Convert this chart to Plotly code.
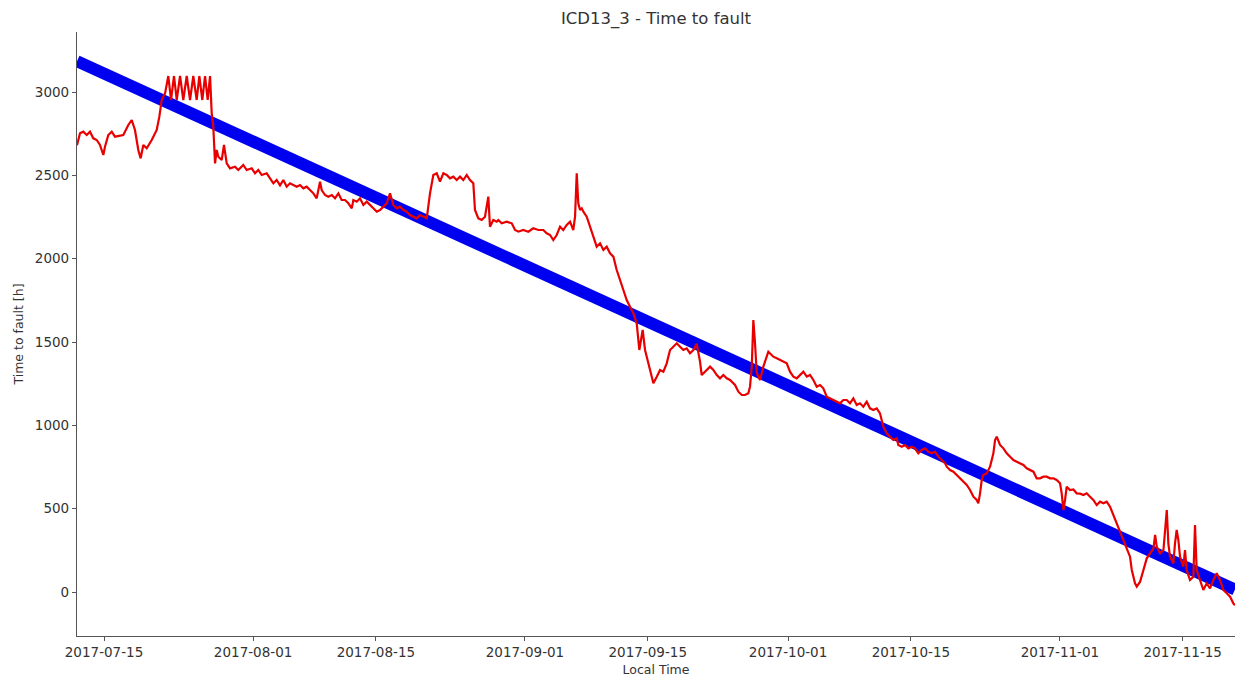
import pandas as pd
import plotly.graph_objects as go

# Reference date for the day offsets below
ORIGIN = pd.Timestamp("2017-07-15")

# Predicted time to fault (red), day offsets from ORIGIN and hours
red_day = [
    -3.08, -2.74, -2.36, -1.97, -1.60, -1.22, -0.83, -0.46, -0.08, 0.11,
    0.49, 0.88, 1.25, 1.82, 2.20, 2.77, 3.16, 3.53, 3.91, 4.18,
    4.48, 4.87, 5.44, 6.01, 6.31, 6.58, 6.96, 7.33, 7.64, 7.98,
    8.29, 8.67, 9.04, 9.43, 9.81, 10.18, 10.57, 10.87, 11.21, 11.52,
    11.82, 12.09, 12.28, 12.46, 12.66, 12.85, 13.03, 13.42, 13.68, 13.99,
    14.37, 14.94, 15.31, 15.88, 16.27, 16.84, 17.22, 17.59, 17.98, 18.55,
    18.93, 19.31, 19.69, 20.07, 20.45, 20.83, 21.21, 21.59, 21.97, 22.35,
    22.73, 23.11, 23.49, 23.87, 24.25, 24.63, 24.82, 25.20, 25.58, 25.97,
    26.34, 26.72, 27.10, 27.48, 27.86, 28.25, 28.43, 28.82, 29.19, 29.57,
    29.96, 30.33, 30.71, 31.10, 31.47, 31.85, 32.24, 32.61, 32.99, 33.38,
    33.75, 34.13, 34.52, 34.89, 35.27, 35.66, 36.03, 36.41, 36.80, 37.17,
    37.55, 37.94, 38.31, 38.69, 39.08, 39.45, 39.83, 40.22, 40.59, 40.97,
    41.36, 41.73, 42.11, 42.30, 42.68, 43.07, 43.44, 43.82, 44.01, 44.39,
    44.78, 44.96, 45.35, 45.92, 46.49, 46.87, 47.24, 47.81, 48.38, 48.95,
    49.52, 50.09, 50.48, 50.86, 51.23, 51.62, 52.00, 52.37, 52.76, 53.14,
    53.51, 53.71, 53.90, 54.08, 54.28, 54.47, 54.66, 55.04, 55.42, 55.80,
    56.18, 56.56, 56.94, 57.32, 57.70, 58.08, 58.46, 58.84, 59.22, 59.60,
    59.98, 60.36, 60.74, 61.04, 61.42, 61.69, 62.07, 62.64, 63.03, 63.40,
    63.78, 64.16, 64.54, 64.92, 65.31, 65.68, 66.06, 66.44, 66.82, 67.20,
    67.58, 67.96, 68.15, 68.53, 69.10, 69.48, 69.87, 70.24, 70.62, 71.01,
    71.38, 71.95, 72.33, 72.72, 73.09, 73.47, 73.66, 73.86, 74.04, 74.23,
    74.43, 74.80, 75.18, 75.75, 76.32, 76.71, 77.08, 77.46, 77.85, 78.22,
    78.60, 78.99, 79.36, 79.74, 80.13, 80.50, 80.88, 81.27, 81.64, 82.02,
    82.41, 82.78, 83.16, 83.55, 83.92, 84.30, 84.69, 85.06, 85.44, 85.83,
    86.20, 86.58, 86.97, 87.34, 87.72, 88.11, 88.48, 88.86, 89.25, 89.62,
    90.00, 90.39, 90.57, 90.96, 91.33, 91.71, 92.10, 92.47, 92.85, 93.24,
    93.62, 93.99, 94.38, 94.76, 95.13, 95.52, 95.90, 96.09, 96.47, 96.85,
    97.24, 97.61, 97.99, 98.37, 98.75, 99.13, 99.51, 99.69, 99.89, 100.08,
    100.26, 100.65, 101.03, 101.41, 101.60, 101.79, 102.17, 102.55, 102.93, 103.31,
    103.69, 104.07, 104.45, 104.83, 105.21, 105.59, 105.97, 106.35, 106.73, 107.11,
    107.49, 107.87, 108.25, 108.63, 109.01, 109.20, 109.39, 109.58, 109.77, 110.15,
    110.53, 110.91, 111.29, 111.67, 112.05, 112.43, 112.81, 113.19, 113.57, 113.95,
    114.33, 114.71, 115.09, 115.47, 115.85, 116.23, 116.61, 116.99, 117.19, 117.56,
    117.76, 118.14, 118.52, 118.90, 119.28, 119.66, 119.85, 120.04, 120.42, 120.80,
    121.18, 121.36, 121.55, 121.93, 122.12, 122.31, 122.50, 122.69, 123.07, 123.26,
    123.45, 123.83, 124.21, 124.40, 124.59, 124.97, 125.35, 125.73, 126.11, 126.49,
    126.87, 127.25, 127.63, 128.02, 128.40, 128.77, 128.96,
]
red_hours = [
    2680, 2752, 2762, 2742, 2762, 2722, 2712, 2682, 2622, 2672,
    2742, 2762, 2732, 2736, 2742, 2802, 2832, 2772, 2652, 2602,
    2682, 2662, 2712, 2772, 2852, 2952, 2992, 3096, 2952, 3096,
    2952, 3096, 2952, 3096, 2952, 3096, 2952, 3096, 2952, 3096,
    2952, 3096, 2872, 2792, 2572, 2652, 2612, 2592, 2682, 2572,
    2542, 2552, 2532, 2562, 2532, 2542, 2512, 2532, 2502, 2512,
    2482, 2452, 2472, 2440, 2472, 2432, 2452, 2442, 2432, 2442,
    2422, 2432, 2412, 2392, 2362, 2462, 2412, 2382, 2372, 2382,
    2362, 2392, 2352, 2352, 2332, 2302, 2352, 2342, 2362, 2322,
    2342, 2322, 2302, 2282, 2292, 2312, 2332, 2392, 2322, 2302,
    2312, 2292, 2282, 2262, 2252, 2242, 2262, 2252, 2242, 2392,
    2502, 2512, 2462, 2512, 2502, 2482, 2492, 2472, 2492, 2472,
    2502, 2472, 2452, 2292, 2242, 2232, 2252, 2372, 2192, 2232,
    2222, 2232, 2212, 2222, 2212, 2172, 2162, 2172, 2162, 2182,
    2172, 2172, 2152, 2142, 2112, 2142, 2192, 2172, 2202, 2222,
    2172, 2252, 2512, 2332, 2292, 2302, 2282, 2252, 2192, 2132,
    2072, 2092, 2052, 2072, 2032, 2012, 1932, 1872, 1812, 1752,
    1712, 1672, 1612, 1452, 1572, 1452, 1372, 1252, 1292, 1332,
    1322, 1372, 1452, 1472, 1492, 1472, 1452, 1462, 1432, 1452,
    1490, 1382, 1302, 1322, 1352, 1332, 1302, 1282, 1302, 1282,
    1272, 1242, 1202, 1182, 1182, 1192, 1232, 1352, 1632, 1492,
    1312, 1272, 1352, 1442, 1412, 1402, 1392, 1382, 1372, 1322,
    1292, 1282, 1302, 1322, 1292, 1302, 1272, 1232, 1242, 1222,
    1172, 1162, 1152, 1142, 1132, 1152, 1152, 1132, 1162, 1122,
    1132, 1112, 1142, 1102, 1092, 1102, 1072, 992, 952, 932,
    912, 922, 882, 872, 882, 862, 872, 862, 832, 852,
    862, 842, 832, 842, 812, 792, 772, 752, 732, 722,
    702, 682, 662, 642, 612, 572, 552, 532, 592, 672,
    702, 712, 752, 832, 912, 932, 882, 862, 832, 812,
    792, 782, 772, 762, 742, 732, 722, 682, 682, 692,
    692, 682, 682, 672, 652, 592, 492, 552, 632, 612,
    615, 592, 590, 582, 592, 572, 552, 522, 542, 532,
    542, 512, 462, 412, 362, 302, 252, 212, 132, 52,
    32, 62, 132, 202, 232, 262, 342, 272, 232, 252,
    492, 292, 212, 172, 292, 372, 312, 212, 152, 252,
    132, 72, 92, 402, 132, 72, 12, 52, 22, 72,
    112, 72, 12, -8, -28, -68, -80,
]

# Actual time to fault (blue), straight countdown
blue_day = [-3.08, 128.96]
blue_hours = [3185, 15]

# Axis ticks
x_tick_labels = ["2017-07-15", "2017-08-01", "2017-08-15", "2017-09-01",
                 "2017-09-15", "2017-10-01", "2017-10-15", "2017-11-01",
                 "2017-11-15"]
y_tick_values = [0, 500, 1000, 1500, 2000, 2500, 3000]

red_time = ORIGIN + pd.to_timedelta(red_day, unit="D")
blue_time = ORIGIN + pd.to_timedelta(blue_day, unit="D")

fig = go.Figure()
fig.add_trace(go.Scatter(
    x=blue_time, y=blue_hours, mode="lines",
    line=dict(color="#0000f0", width=12), name="actual",
))
fig.add_trace(go.Scatter(
    x=red_time, y=red_hours, mode="lines",
    line=dict(color="#e80000", width=2.2), name="predicted",
))

axis_color = "#555555"
text_color = "#333333"

fig.update_layout(
    width=1235, height=677,
    margin=dict(l=77, r=0, t=32, b=41),
    plot_bgcolor="white", paper_bgcolor="white",
    showlegend=False,
    font=dict(family="DejaVu Sans", size=13.5, color=text_color),
    title=dict(
        text="ICD13_3 - Time to fault",
        x=0.5, xref="paper", xanchor="center",
        y=1 - 18 / 677, yref="container", yanchor="middle",
        font=dict(size=16.5, color=text_color),
    ),
)

fig.update_xaxes(
    type="date",
    range=[red_time[0], red_time[-1]],
    tickvals=pd.to_datetime(x_tick_labels),
    ticktext=x_tick_labels,
    showline=True, linecolor=axis_color, linewidth=1.2,
    ticks="outside", ticklen=4, tickcolor=axis_color, tickwidth=1,
    showgrid=False, zeroline=False,
    title=dict(text="Local Time", standoff=6, font=dict(size=12.5)),
    automargin=False,
)
fig.update_yaxes(
    range=[-264, 3360],
    tickvals=y_tick_values,
    showline=True, linecolor=axis_color, linewidth=1.2,
    ticks="outside", ticklen=4, tickcolor=axis_color, tickwidth=1,
    showgrid=False, zeroline=False,
    title=dict(text="Time to fault [h]", standoff=8, font=dict(size=12.5)),
    automargin=False,
)

fig.write_html("out.html")
